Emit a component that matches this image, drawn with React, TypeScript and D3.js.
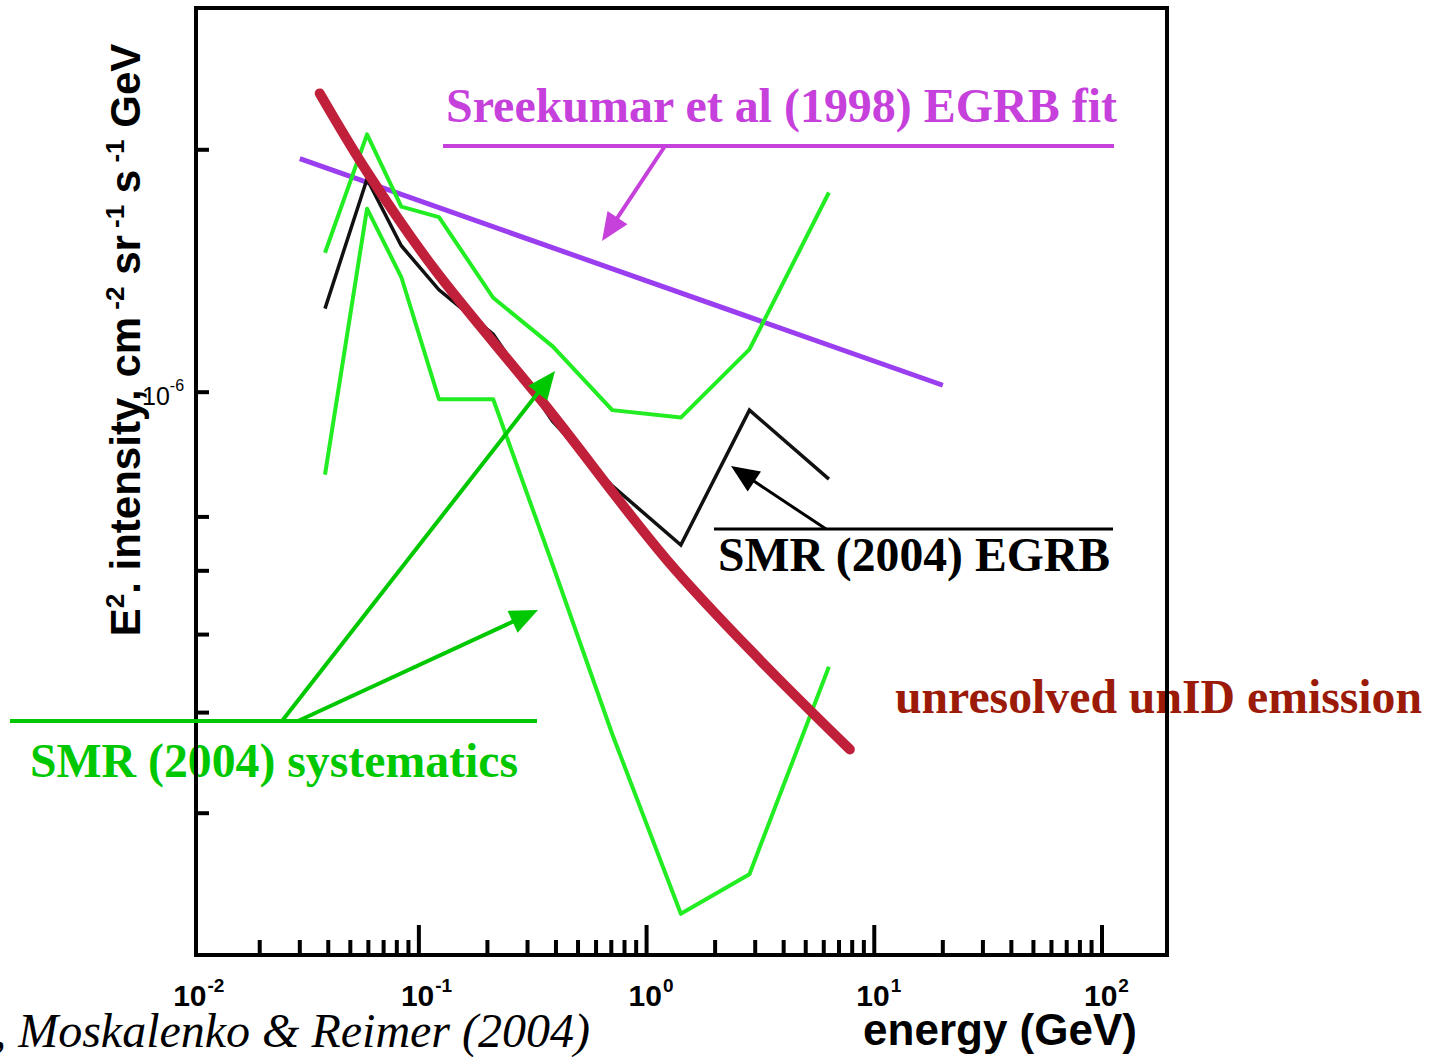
import React, { useEffect, useRef } from 'react';
import * as d3 from 'd3';

// EGRET energy bins (GeV), geometric centres
const energyBins = [0.0387, 0.0592, 0.0837, 0.1225, 0.212, 0.387, 0.707, 1.414, 2.83, 6.32];
// SMR (2004) EGRB, E^2 intensity
const egrbSMR = [1.27e-6, 1.84e-6, 1.52e-6, 1.34e-6, 1.18e-6, 0.92e-6, 0.765e-6, 0.646e-6, 0.95e-6, 0.78e-6];
// systematics band
const sysUpper = [1.49e-6, 2.09e-6, 1.70e-6, 1.65e-6, 1.31e-6, 1.14e-6, 0.95e-6, 0.93e-6, 1.13e-6, 1.77e-6];
const sysLower = [0.79e-6, 1.69e-6, 1.39e-6, 0.98e-6, 0.98e-6, 0.61e-6, 0.376e-6, 0.225e-6, 0.252e-6, 0.456e-6];
// unresolved unID emission
const unidEnergy = [0.0367, 0.0591, 0.1152, 0.3648, 1.228, 3.145, 7.81];
const unidFlux = [2.35e-6, 1.88e-6, 1.43e-6, 0.958e-6, 0.619e-6, 0.465e-6, 0.36e-6];
// Sreekumar et al (1998) fit
const sreekumarEnergy = [0.03, 20];
const sreekumarFlux = [1.95e-6, 1.02e-6];

const xTickExponents = [-2, -1, 0, 1, 2];
const yTickValues = [3e-7, 4e-7, 5e-7, 6e-7, 7e-7, 1e-6, 2e-6];

const W = 1434, H = 1057;
const frame = { left: 196, right: 1167, top: 8, bottom: 955 };

function arrow(g: any, x1: number, y1: number, x2: number, y2: number, color: string, width: number) {
  const dx = x2 - x1, dy = y2 - y1;
  const len = Math.sqrt(dx * dx + dy * dy);
  const ux = dx / len, uy = dy / len;
  const headL = 28, headW = 12;
  const bx = x2 - ux * headL, by = y2 - uy * headL;
  g.append('line')
    .attr('x1', x1).attr('y1', y1).attr('x2', bx + ux * 2).attr('y2', by + uy * 2)
    .attr('stroke', color).attr('stroke-width', width);
  g.append('polygon')
    .attr('points', `${x2},${y2} ${bx - uy * headW},${by + ux * headW} ${bx + uy * headW},${by - ux * headW}`)
    .attr('fill', color);
}

function Chart() {
  const ref = useRef<SVGSVGElement>(null);

  useEffect(() => {
    const svg = d3.select(ref.current);
    svg.selectAll('*').remove();

    const x = d3.scaleLog().domain([0.0105, 193]).range([frame.left, frame.right]);
    const y = d3.scaleLog().domain([2e-7, 3e-6]).range([frame.bottom, frame.top]);

    const plot = svg.append('g');

    const line = d3.line<[number, number]>()
      .x(d => x(d[0]))
      .y(d => y(d[1]));

    // Sreekumar fit
    plot.append('path')
      .datum(d3.zip(sreekumarEnergy, sreekumarFlux) as [number, number][])
      .attr('d', line)
      .attr('fill', 'none')
      .attr('stroke', '#9a3ef0')
      .attr('stroke-width', 5);

    // systematics
    [sysUpper, sysLower].forEach(vals => {
      plot.append('path')
        .datum(d3.zip(energyBins, vals) as [number, number][])
        .attr('d', line)
        .attr('fill', 'none')
        .attr('stroke', '#22ec22')
        .attr('stroke-width', 4)
        .attr('stroke-linejoin', 'round');
    });

    // EGRB
    plot.append('path')
      .datum(d3.zip(energyBins, egrbSMR) as [number, number][])
      .attr('d', line)
      .attr('fill', 'none')
      .attr('stroke', '#111')
      .attr('stroke-width', 3.5);

    // unresolved unID
    plot.append('path')
      .datum(d3.zip(unidEnergy, unidFlux) as [number, number][])
      .attr('d', line.curve(d3.curveCatmullRom))
      .attr('fill', 'none')
      .attr('stroke', '#c0203a')
      .attr('stroke-width', 10)
      .attr('stroke-linecap', 'round');

    // text annotations
    const ann = svg.append('g')
      .style('font-family', '"Liberation Serif", "Times New Roman", serif')
      .style('font-weight', 'bold')
      .style('font-size', '48px');

    ann.append('text').attr('x', 446).attr('y', 122).attr('fill', '#c640dc')
      .attr('textLength', 671).attr('lengthAdjust', 'spacingAndGlyphs')
      .text('Sreekumar et al (1998) EGRB fit');
    ann.append('text').attr('x', 718).attr('y', 571).attr('fill', '#000')
      .attr('textLength', 392).attr('lengthAdjust', 'spacingAndGlyphs')
      .text('SMR (2004) EGRB');
    ann.append('text').attr('x', 895).attr('y', 713).attr('fill', '#9b1a08')
      .attr('textLength', 527).attr('lengthAdjust', 'spacingAndGlyphs')
      .text('unresolved unID emission');
    ann.append('text').attr('x', 30).attr('y', 777).attr('fill', '#00c800')
      .attr('textLength', 488).attr('lengthAdjust', 'spacingAndGlyphs')
      .text('SMR (2004) systematics');

    svg.append('text')
      .attr('x', 590).attr('y', 1047)
      .attr('text-anchor', 'end')
      .style('font-family', '"Liberation Serif", "Times New Roman", serif')
      .style('font-style', 'italic')
      .style('font-size', '48px')
      .text('Strong, Moskalenko & Reimer (2004)');

    // frame
    svg.append('rect')
      .attr('x', frame.left).attr('y', frame.top)
      .attr('width', frame.right - frame.left).attr('height', frame.bottom - frame.top)
      .attr('fill', 'none').attr('stroke', '#000').attr('stroke-width', 4);

    // x ticks
    const xTicks: { v: number; major: boolean }[] = [];
    xTickExponents.forEach(e => {
      for (let m = 1; m <= 9; m++) {
        const v = m * Math.pow(10, e);
        if (x(v) > frame.left + 2 && x(v) < frame.right - 2) xTicks.push({ v, major: m === 1 });
      }
    });
    svg.append('g').selectAll('line').data(xTicks).join('line')
      .attr('x1', d => x(d.v)).attr('x2', d => x(d.v))
      .attr('y1', frame.bottom).attr('y2', d => frame.bottom - (d.major ? 30 : 15))
      .attr('stroke', '#000').attr('stroke-width', 4);

    const xLab = svg.append('g')
      .style('font-family', '"Liberation Sans", Arial, sans-serif')
      .style('font-weight', 'bold');
    xTickExponents.forEach(e => {
      const t = xLab.append('text')
        .attr('x', x(Math.pow(10, e)) - 18).attr('y', 1006)
        .style('font-size', '30px');
      t.append('tspan').text('10');
      t.append('tspan').attr('dy', -14).attr('dx', 1).style('font-size', '19px')
        .text(e < 0 ? '-' + Math.abs(e) : String(e));
    });

    // y ticks
    svg.append('g').selectAll('line').data(yTickValues).join('line')
      .attr('x1', frame.left).attr('x2', frame.left + 13)
      .attr('y1', d => y(d)).attr('y2', d => y(d))
      .attr('stroke', '#000').attr('stroke-width', 4);

    const yl = svg.append('text')
      .attr('x', 142).attr('y', y(1e-6) + 13)
      .style('font-family', '"Liberation Sans", Arial, sans-serif')
      .style('font-size', '25px');
    yl.append('tspan').text('10');
    yl.append('tspan').attr('dy', -14).style('font-size', '16px').text('-6');

    // axis titles
    svg.append('text')
      .attr('x', 1000).attr('y', 1045)
      .attr('text-anchor', 'middle')
      .style('font-family', '"Liberation Sans", Arial, sans-serif')
      .style('font-weight', 'bold')
      .style('font-size', '44px')
      .text('energy (GeV)');

    const yt = svg.append('text')
      .attr('transform', 'translate(140,340) rotate(-90)')
      .attr('text-anchor', 'middle')
      .style('font-family', '"Liberation Sans", Arial, sans-serif')
      .style('font-weight', 'bold')
      .style('font-size', '42px');
    const sup = (s: string) => yt.append('tspan').attr('dy', -16).style('font-size', '26px').text(s);
    const base = (s: string) => yt.append('tspan').attr('dy', 16).text(s);
    yt.append('tspan').text('E');
    sup('2');
    base('. intensity, cm');
    sup(' -2');
    base(' sr');
    sup(' -1');
    base(' s');
    sup(' -1');
    base(' GeV');

    // underlines and arrows
    const lines = svg.append('g');
    lines.append('line').attr('x1', 443).attr('x2', 1114).attr('y1', 146).attr('y2', 146)
      .attr('stroke', '#c640dc').attr('stroke-width', 4);
    arrow(lines, 665, 146, 602, 241, '#c640dc', 4);

    lines.append('line').attr('x1', 714).attr('x2', 1113).attr('y1', 529).attr('y2', 529)
      .attr('stroke', '#000').attr('stroke-width', 3);
    arrow(lines, 826, 529, 731, 466, '#000', 3);

    lines.append('line').attr('x1', 10).attr('x2', 537).attr('y1', 721).attr('y2', 721)
      .attr('stroke', '#00c800').attr('stroke-width', 4);
    arrow(lines, 282, 721, 555, 371, '#00c800', 4);
    arrow(lines, 298, 721, 538, 610, '#00c800', 4);
  }, []);

  return <svg ref={ref} width={W} height={H} style={{ position: 'absolute', left: 0, top: 0, background: '#fff' }} />;
}

export default function App() {
  return <Chart />;
}
